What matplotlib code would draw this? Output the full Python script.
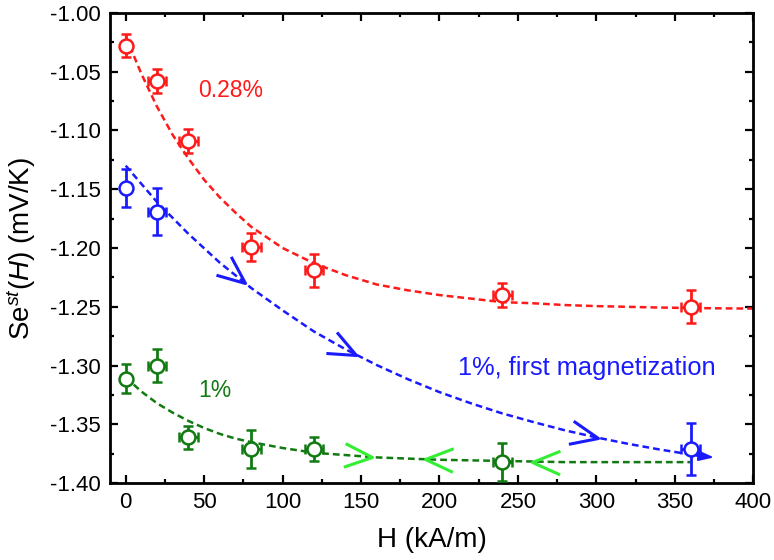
import numpy as np
import matplotlib
matplotlib.use("Agg")
import matplotlib.pyplot as plt
from matplotlib.path import Path
from matplotlib.markers import MarkerStyle
from matplotlib.transforms import Affine2D
from matplotlib.ticker import MultipleLocator, FormatStrFormatter

plt.rcParams['font.family'] = ['Liberation Sans', 'DejaVu Sans']
plt.rcParams['mathtext.fontset'] = 'custom'
plt.rcParams['mathtext.rm'] = 'Liberation Sans'
plt.rcParams['mathtext.it'] = 'Liberation Sans:italic'

# ---- data ----
red_H = [0, 20, 40, 80, 120, 240, 360]
red_S = [-1.028, -1.058, -1.109, -1.199, -1.219, -1.240, -1.250]
red_yerr = [0.010, 0.010, 0.010, 0.012, 0.014, 0.010, 0.014]
red_xerr = [0, 6, 6, 6, 6, 6, 6]

blue_H = [0, 20, 360]
blue_S = [-1.149, -1.169, -1.371]
blue_yerr = [0.016, 0.020, 0.022]
blue_xerr = [0, 6, 6]

green_H = [0, 20, 40, 80, 120, 240]
green_S = [-1.311, -1.300, -1.361, -1.371, -1.371, -1.382]
green_yerr = [0.012, 0.014, 0.010, 0.016, 0.010, 0.016]
green_xerr = [0, 6, 6, 6, 6, 6]

# fit curves
red_fit_H = [0, 10, 20, 30, 40, 50, 60, 70, 80, 90, 100, 120, 140, 160, 180, 200,
             220, 240, 260, 280, 300, 320, 340, 360, 380, 400]
red_fit_S = [-1.020, -1.052, -1.080, -1.104, -1.124, -1.142, -1.157, -1.170, -1.182,
             -1.191, -1.200, -1.213, -1.223, -1.231, -1.236, -1.240, -1.243, -1.246,
             -1.247, -1.2485, -1.2494, -1.250, -1.2506, -1.251, -1.2513, -1.2515]

blue_fit_H = [0, 20, 40, 60, 80, 100, 120, 140, 160, 180, 200, 220, 240, 260, 280,
              300, 320, 340, 360, 366]
blue_fit_S = [-1.130, -1.161, -1.188, -1.2125, -1.234, -1.253, -1.271, -1.286, -1.2995,
              -1.3116, -1.3225, -1.332, -1.3406, -1.348, -1.355, -1.361, -1.3664,
              -1.3712, -1.3755, -1.3765]

green_fit_H = [0, 10, 20, 30, 40, 50, 60, 70, 80, 100, 120, 140, 160, 180, 200, 240,
               280, 320, 360]
green_fit_S = [-1.310, -1.322, -1.332, -1.340, -1.347, -1.353, -1.358, -1.362, -1.365,
               -1.370, -1.374, -1.376, -1.378, -1.379, -1.380, -1.381, -1.382, -1.382,
               -1.382]

blue_arrow_H = [76, 147, 301]          # chevrons pointing along curve (forward)
green_fwd_H = [157]                     # chevron pointing right
green_back_H = [191, 259]               # chevrons pointing left

RED = '#ff1a1a'
BLUE = '#1a1aff'
GREEN = '#117a11'
LIME = '#33ee33'

fig = plt.figure(figsize=(7.74, 5.60), dpi=100)
ax = fig.add_axes([110/774, 1-483.3/560, (753.3-110)/774, (483.3-12.7)/560])
ax.set_xlim(-10, 400)
ax.set_ylim(-1.40, -1.00)

dash = (0, (2.7, 1.6))
ax.plot(red_fit_H, red_fit_S, color=RED, lw=1.8, ls=dash, zorder=2)
ax.plot(blue_fit_H, blue_fit_S, color=BLUE, lw=1.8, ls=dash, zorder=2)
ax.plot(green_fit_H, green_fit_S, color=GREEN, lw=1.8, ls=dash, zorder=2)

# end arrow head on the blue curve
ax.annotate('', xy=(375, -1.378), xytext=(364, -1.3765),
            arrowprops=dict(arrowstyle='-|>,head_length=0.9,head_width=0.3',
                            color=BLUE, lw=1.5, shrinkA=0, shrinkB=0), zorder=3)

# chevron markers
half = np.deg2rad(23)
chev = Path([(-np.cos(half), np.sin(half)), (0, 0), (-np.cos(half), -np.sin(half))],
            [Path.MOVETO, Path.LINETO, Path.LINETO])

def disp_angle(xs, ys, x, direction=1):
    y0 = np.interp(x - 3, xs, ys)
    y1 = np.interp(x + 3, xs, ys)
    p0 = ax.transData.transform((x - 3, y0))
    p1 = ax.transData.transform((x + 3, y1))
    d = (p1 - p0) * direction
    return np.degrees(np.arctan2(d[1], d[0]))

def draw_chev(x, xs, ys, color, direction=1):
    y = np.interp(x, xs, ys)
    ang = disp_angle(xs, ys, x, direction)
    ms = MarkerStyle(chev, fillstyle='none', transform=Affine2D().rotate_deg(ang))
    ax.plot([x], [y], marker=ms, markersize=40, markeredgewidth=2.2,
            color=color, markerfacecolor='none', ls='none', zorder=3)

for x in blue_arrow_H:
    draw_chev(x, blue_fit_H, blue_fit_S, BLUE, 1)
for x in green_fwd_H:
    draw_chev(x, green_fit_H, green_fit_S, LIME, 1)
for x in green_back_H:
    draw_chev(x, green_fit_H, green_fit_S, LIME, -1)

def eb(H, S, xe, ye, c):
    ax.errorbar(H, S, yerr=ye, xerr=xe, fmt='o', color=c, ms=10, mew=1.8,
                mfc='white', mec=c, elinewidth=2.0, capsize=3.8, capthick=2.0,
                zorder=4)

eb(red_H, red_S, red_xerr, red_yerr, RED)
eb(blue_H, blue_S, blue_xerr, blue_yerr, BLUE)
eb(green_H, green_S, green_xerr, green_yerr, GREEN)

ax.text(46, -1.0662, '0.28%', color=RED, fontsize=16.5, va='center', ha='left')
ax.text(46, -1.3213, '1%', color=GREEN, fontsize=16.5, va='center', ha='left')
ax.text(211.5, -1.302, '1%, first magnetization', color=BLUE, fontsize=18.3,
        va='center', ha='left')

ax.xaxis.set_major_locator(MultipleLocator(50))
ax.xaxis.set_minor_locator(MultipleLocator(25))
ax.yaxis.set_major_locator(MultipleLocator(0.05))
ax.yaxis.set_minor_locator(MultipleLocator(0.025))
ax.yaxis.set_major_formatter(FormatStrFormatter('%.2f'))
ax.tick_params(which='both', direction='in', top=True, right=True, width=1.6,
               labelsize=16)
ax.tick_params(which='major', length=5.5, pad=6.5)
ax.tick_params(which='minor', length=3)
for sp in ax.spines.values():
    sp.set_linewidth(2.0)

ax.set_xlabel('H (kA/m)', fontsize=20, labelpad=10)
ax.set_ylabel(r'Se$^{st}$($H$) (mV/K)', fontsize=20, labelpad=9)

fig.savefig('out.png', dpi=100)
